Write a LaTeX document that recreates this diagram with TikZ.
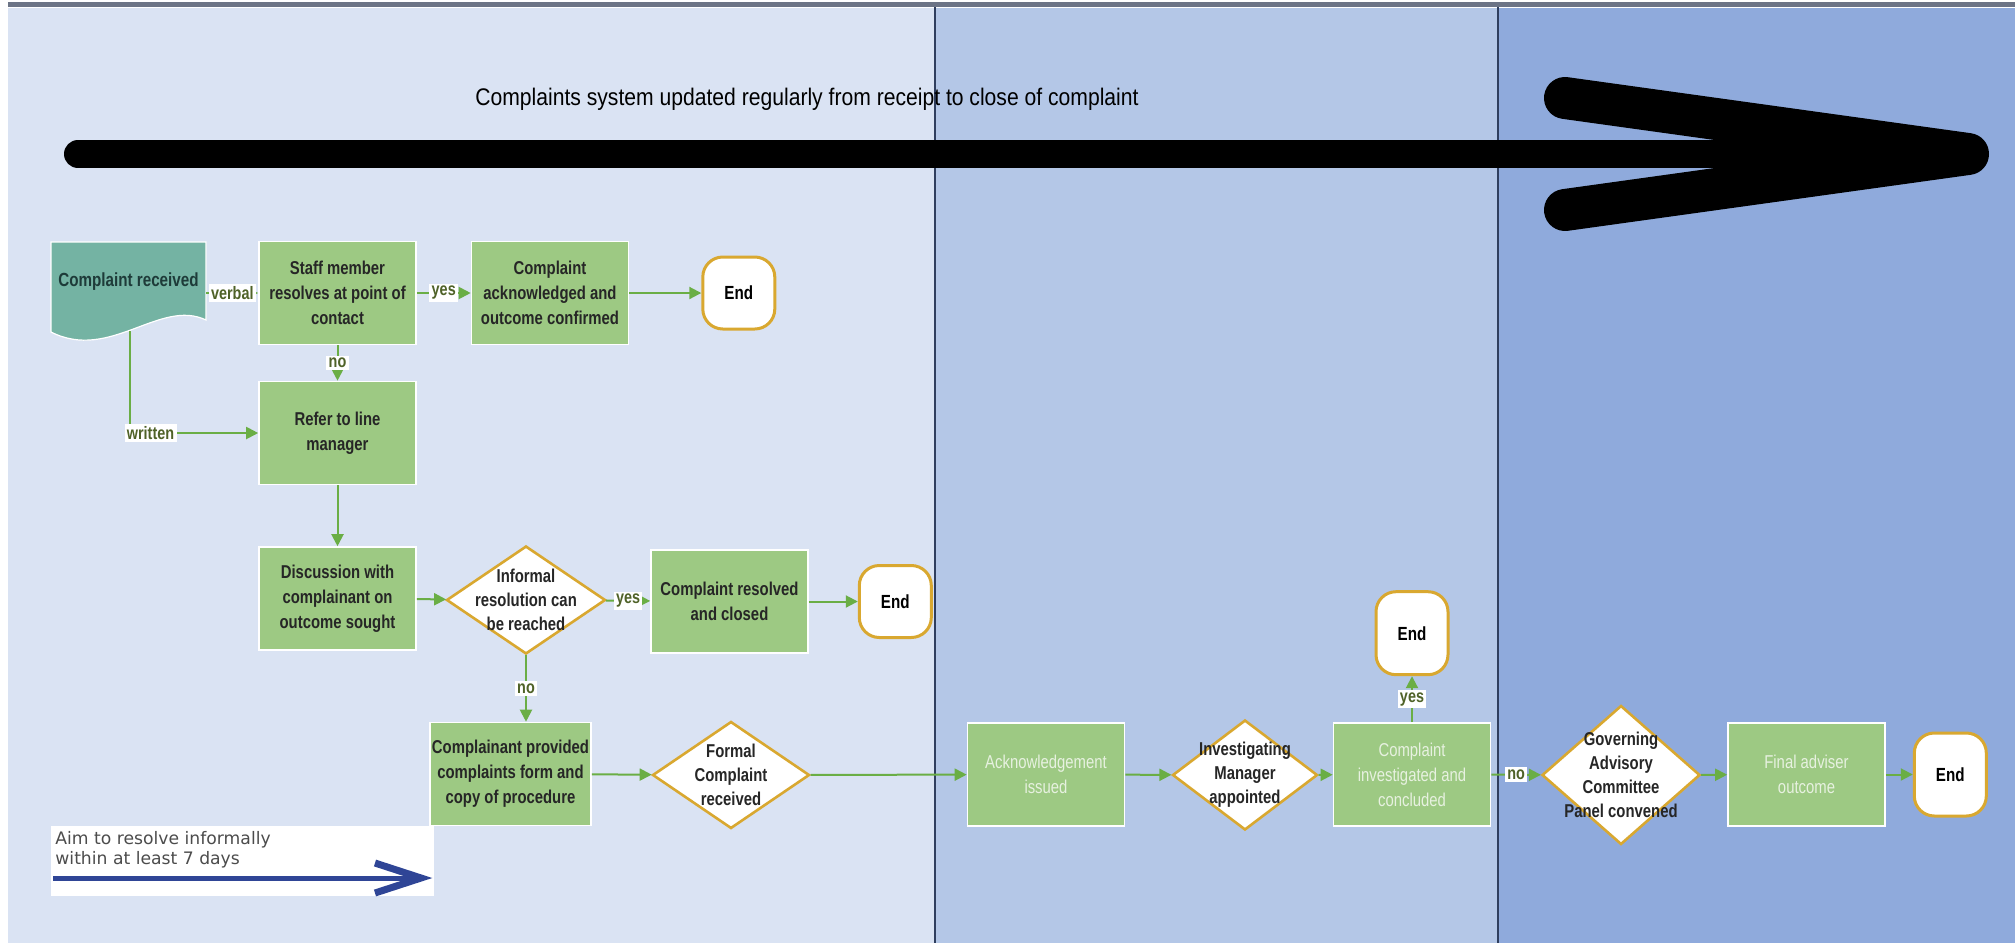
\documentclass[tikz,border=0pt]{standalone}
\usepackage{fontspec}
\setmainfont{Liberation Sans}
\newfontfamily\narrowfont[FakeStretch=0.8]{Liberation Sans}
\newfontfamily\titlefont[FakeStretch=0.88]{Liberation Sans}
\newfontfamily\aimfont{DejaVu Sans}
\usetikzlibrary{shapes.geometric,arrows.meta,positioning,calc}

\definecolor{laneA}{HTML}{DAE3F3}
\definecolor{laneB}{HTML}{B4C7E7}
\definecolor{laneC}{HTML}{8FAADC}
\definecolor{laneline}{HTML}{2F3E5E}
\definecolor{topband}{HTML}{6C7486}
\definecolor{procgreen}{HTML}{9DC983}
\definecolor{flowgreen}{HTML}{6AAE45}
\definecolor{gold}{HTML}{D9A830}
\definecolor{docteal}{HTML}{74B3A3}
\definecolor{docdark}{HTML}{1E3B39}
\definecolor{lblolive}{HTML}{4F6228}
\definecolor{aimblue}{HTML}{2F4596}

\begin{document}
\begin{tikzpicture}[x=0.5pt, y=-0.5pt, >={Triangle[length=6pt,width=6pt]},
  proc/.style={draw=white, line width=0.8pt, fill=procgreen, minimum width=78.5pt,
    minimum height=51.5pt, inner sep=1pt, align=center, text=black!85,
    font=\narrowfont\bfseries\fontsize{9.3}{12.5}\selectfont},
  faded/.style={proc, text=white!75!procgreen, font=\narrowfont\fontsize{9.3}{12.5}\selectfont},
  decision/.style={diamond, draw=gold, line width=1.3pt, fill=white, inner sep=0pt},
  dtext/.style={align=center, text=black!85, font=\narrowfont\bfseries\fontsize{9.3}{12}\selectfont},
  term/.style={rectangle, rounded corners=10pt, draw=gold, line width=1.5pt, fill=white,
    minimum width=36pt, minimum height=36pt, font=\narrowfont\bfseries\fontsize{9.5}{11}\selectfont},
  flow/.style={->, flowgreen, line width=1pt},
  lbl/.style={fill=white, inner sep=1.2pt, text=lblolive, font=\narrowfont\bfseries\fontsize{9}{10}\selectfont}]

% lanes
\fill[white] (0,0) rectangle (2015,943);
\fill[laneA] (8,8) rectangle (935,943);
\fill[laneB] (935,8) rectangle (1498,943);
\fill[laneC] (1498,8) rectangle (2015,943);
\fill[topband] (8,2) rectangle (2015,7);
\draw[laneline, line width=1pt] (935,7) -- (935,943) (1498,7) -- (1498,943);

% big arrow
\coordinate (a0) at (78,154);
\coordinate (a1) at (1968,154);
\draw[line width=14pt, line cap=round] (a0) -- ($(a1)+(-20,0)$);
\draw[line width=21pt, line cap=round, line join=round] (1565,98) -- (a1) -- (1565,210);
\node[font=\titlefont\fontsize{12}{14}\selectfont] (t0) at (807,99) {Complaints system updated regularly from receipt to close of complaint};

% complaint received
\fill[docteal, draw=white, line width=0.6pt] (51,242) -- (206,242) -- (206,320)
  .. controls (160,298) and (110,362) .. (51,332) -- cycle;
\node[text=docdark, font=\narrowfont\bfseries\fontsize{9.5}{11}\selectfont,
  minimum width=77.5pt, minimum height=30pt] (n0) at (128.5,282) {Complaint received};
\coordinate (w0) at (130,331);

\node[proc] (n1) at (337.5,293) {Staff member\\resolves at point of\\contact};
\node[proc] (n2) at (550,293) {Complaint\\acknowledged and\\outcome confirmed};
\node[term, right=36pt of n2] (n3) {End};
\node[proc] (n4) at (337.5,433) {Refer to line\\manager};
\node[proc] (n5) at (337.5,598.5) {Discussion with\\complainant on\\outcome sought};
\node[decision, minimum width=79.5pt, minimum height=54pt,
  label={[dtext]center:{Informal\\resolution can\\be reached}}] (n6) at (526,600) {};
\node[proc] (n7) at (729.5,601.5) {Complaint resolved\\and closed};
\node[term, right=24.5pt of n7] (n8) {End};
\node[proc] (n9) at (510.5,774) {Complainant provided\\complaints form and\\copy of procedure};
\node[decision, minimum width=78.5pt, minimum height=53.5pt,
  label={[dtext]center:{Formal\\Complaint\\received}}] (n10) at (731,775) {};
\node[faded] (n11) at (1046,774.5) {Acknowledgement\\issued};
\node[decision, minimum width=72.5pt, minimum height=55pt,
  label={[dtext]center:{Investigating\\Manager\\appointed}}] (n12) at (1245,775) {};
\node[faded] (n13) at (1412,774.5) {Complaint\\investigated and\\concluded};
\node[term, minimum height=41.5pt, above=23pt of n13] (n14) {End};
\node[decision, minimum width=79pt, minimum height=69.5pt,
  label={[dtext]center:{Governing\\Advisory\\Committee\\Panel convened}}] (n15) at (1621,775) {};
\node[faded] (n16) at (1806.5,774.5) {Final adviser\\outcome};
\node[term, minimum height=41.5pt, right=13.5pt of n16] (n17) {End};

\path[flow]
  (n1 -| n0.east) edge node[lbl] {verbal} (n1)
  (n1) edge node[lbl] {yes} (n2)
  (n2) edge (n3)
  (n1) edge node[lbl] {no} (n4)
  (n4) edge (n5)
  (n5) edge (n6)
  (n6) edge node[lbl] {yes} (n7)
  (n7) edge (n8)
  (n6) edge node[lbl] {no} (n6 |- n9.north)
  (n9) edge (n10)
  (n10) edge (n11)
  (n11) edge (n12)
  (n12) edge (n13)
  (n13) edge node[lbl] {yes} (n14)
  (n13) edge node[lbl] {no} (n15)
  (n15) edge (n16)
  (n16) edge (n17)
;
\draw[flow] (w0) |- node[lbl, pos=0.58] {written} (n4);

% informal time aim
\fill[white] (51,826) rectangle (434,896);
\node[anchor=north west, align=left, text=black!70, inner sep=0pt,
  font=\aimfont\fontsize{8.6}{9.8}\selectfont] (m0) at (55,831) {Aim to resolve informally\\within at least 7 days};
\coordinate (b0) at (53,878);
\coordinate (b1) at (421,878);
\draw[aimblue, line width=2.5pt] (b0) -- ($(b1)+(-6,0)$);
\draw[aimblue, line width=3.5pt, line join=miter] (375,863) -- (b1) -- (375,893);
\end{tikzpicture}
\end{document}
